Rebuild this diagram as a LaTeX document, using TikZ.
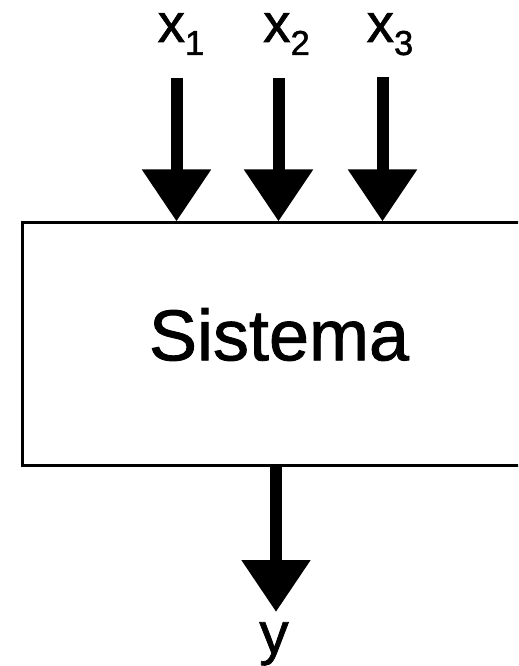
\documentclass[tikz,border=0pt]{standalone}
\usepackage{fontspec}
\setmainfont[FakeBold=1.2]{Liberation Sans}
\usetikzlibrary{positioning,arrows.meta}
\newcommand\insub[1]{\raisebox{-9.75pt}{\fontsize{26}{26}\selectfont #1}}
\tikzset{bigarrow/.style={line width=9pt, -{Triangle[width=49.5pt,length=39pt]}},
  inlabel/.style={anchor=base, inner sep=0, font=\fontsize{41}{41}\selectfont}}

\begin{document}
\begin{tikzpicture}[x=0.75pt,y=-0.75pt]
  \clip (0,0) rectangle (518,666);
  \node[draw, line width=2.25pt, minimum width=385.5pt, minimum height=181.5pt, inner sep=0,
    text depth=14.7pt, font=\fontsize{54}{54}\selectfont] (sys) at (279,344) {Sistema};
  % inputs
  \coordinate (in1) at (176.5,78);
  \coordinate (in2) at (278.5,78);
  \coordinate (in3) at (382.5,77);
  \node[inlabel] (lab1) at (181,42) {x\insub{1}};
  \node[inlabel] (lab2) at (286.5,42) {x\insub{2}};
  \node[inlabel] (lab3) at (390,42) {x\insub{3}};
  \draw[bigarrow] (in1) -- (in1 |- sys.north);
  \draw[bigarrow] (in2) -- (in2 |- sys.north);
  \draw[bigarrow] (in3) -- (in3 |- sys.north);
  % output
  \coordinate (out) at (276,612);
  \draw[bigarrow] (sys.south -| out) -- (out);
  \node[anchor=north, inner sep=0, font=\fontsize{44}{44}\selectfont] (ylab) at (274,622) {y};
\end{tikzpicture}
\end{document}
